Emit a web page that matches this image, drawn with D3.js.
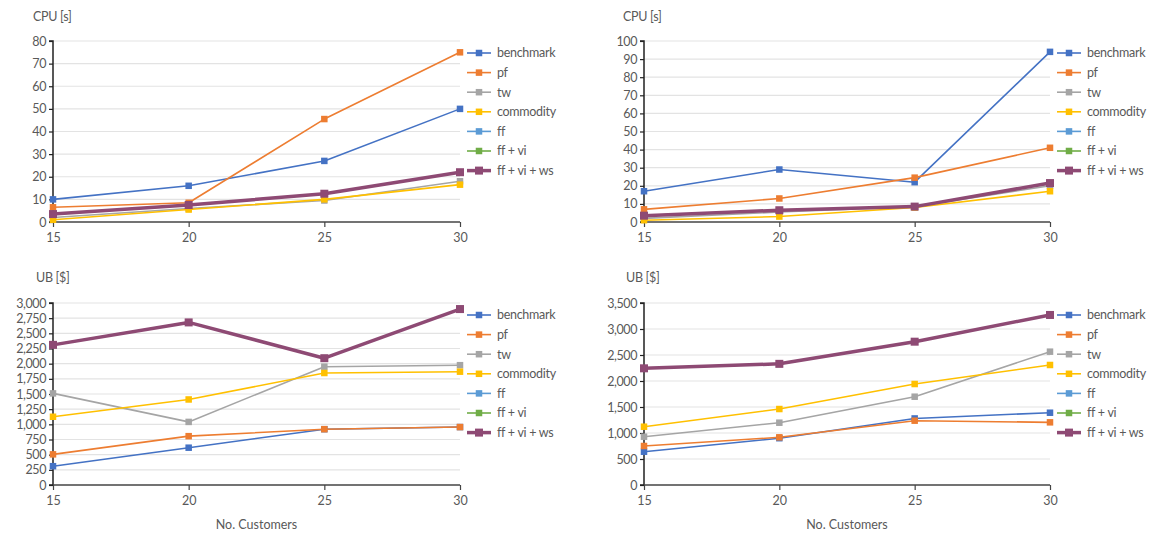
<!DOCTYPE html>
<html><head><meta charset="utf-8">
<script src="https://cdn.jsdelivr.net/npm/d3@7"></script>
<style>body{margin:0;background:#fff;} text{font-family:Lato,"Open Sans",sans-serif;}</style>
</head><body><svg id="c" width="1159" height="538"></svg>
<script>
const customers = [15, 20, 25, 30];
const seriesNames = ["benchmark", "pf", "tw", "commodity", "ff", "ff + vi", "ff + vi + ws"];
const seriesColors = ["#4472C4", "#ED7D31", "#A5A5A5", "#FFC000", "#5B9BD5", "#70AD47", "#8E4A74"];

// CPU [s], left
const cpuA_benchmark = [10, 16, 27, 50];
const cpuA_pf = [6.5, 8.5, 45.5, 75];
const cpuA_tw = [2, 6, 9.5, 18];
const cpuA_commodity = [1, 5.5, 10, 16.5];
const cpuA_ff = [3.5, 7.5, 12.5, 22];
const cpuA_ffvi = [3.5, 7.5, 12.5, 22];
const cpuA_ffviws = [3.5, 7.5, 12.5, 22];
// CPU [s], right
const cpuB_benchmark = [17, 29, 22, 94];
const cpuB_pf = [7, 13, 24.5, 41];
const cpuB_tw = [2, 5.5, 8.5, 20];
const cpuB_commodity = [1, 3, 8, 17];
const cpuB_ff = [3.5, 6.5, 8.5, 21.5];
const cpuB_ffvi = [3.5, 6.5, 8.5, 21.5];
const cpuB_ffviws = [3.5, 6.5, 8.5, 21.5];
// UB [$], left
const ubA_benchmark = [310, 615, 920, 955];
const ubA_pf = [505, 805, 920, 955];
const ubA_tw = [1510, 1040, 1950, 1975];
const ubA_commodity = [1125, 1410, 1846, 1868];
const ubA_ff = [2310, 2680, 2090, 2900];
const ubA_ffvi = [2310, 2680, 2090, 2900];
const ubA_ffviws = [2310, 2680, 2090, 2900];
// UB [$], right
const ubB_benchmark = [640, 900, 1280, 1390];
const ubB_pf = [750, 917, 1237, 1205];
const ubB_tw = [929, 1198, 1698, 2564];
const ubB_commodity = [1121, 1461, 1942, 2308];
const ubB_ff = [2244, 2330, 2756, 3270];
const ubB_ffvi = [2244, 2330, 2756, 3270];
const ubB_ffviws = [2244, 2330, 2756, 3270];

const cpuATicks = [0,10,20,30,40,50,60,70,80];
const cpuBTicks = [0,10,20,30,40,50,60,70,80,90,100];
const ubATicks = [0,250,500,750,1000,1250,1500,1750,2000,2250,2500,2750,3000];
const ubBTicks = [0,500,1000,1500,2000,2500,3000,3500];

const panels = [
  {title:"CPU [s]", titleX:33, titleY:21, x0:53, x1:460, y0:41, y1:222, ticks:cpuATicks, fmt:d3.format("d"), xlab:false, legY:53,
   data:[cpuA_benchmark,cpuA_pf,cpuA_tw,cpuA_commodity,cpuA_ff,cpuA_ffvi,cpuA_ffviws]},
  {title:"CPU [s]", titleX:623, titleY:21, x0:644, x1:1050, y0:41, y1:222, ticks:cpuBTicks, fmt:d3.format("d"), xlab:false, legY:53,
   data:[cpuB_benchmark,cpuB_pf,cpuB_tw,cpuB_commodity,cpuB_ff,cpuB_ffvi,cpuB_ffviws]},
  {title:"UB [$]", titleX:36, titleY:282, x0:53, x1:460, y0:303, y1:485, ticks:ubATicks, fmt:d3.format(","), xlab:true, legY:315,
   data:[ubA_benchmark,ubA_pf,ubA_tw,ubA_commodity,ubA_ff,ubA_ffvi,ubA_ffviws]},
  {title:"UB [$]", titleX:626, titleY:282, x0:644, x1:1050, y0:303, y1:485, ticks:ubBTicks, fmt:d3.format(","), xlab:true, legY:315,
   data:[ubB_benchmark,ubB_pf,ubB_tw,ubB_commodity,ubB_ff,ubB_ffvi,ubB_ffviws]}
];

const svg = d3.select("#c");
const txt = "#595959";

panels.forEach(p => {
  const g = svg.append("g");
  const x = d3.scalePoint().domain(customers).range([p.x0, p.x1]);
  const y = d3.scaleLinear().domain([p.ticks[0], p.ticks[p.ticks.length-1]]).range([p.y1, p.y0]);

  g.selectAll(".grid").data(p.ticks.slice(1)).join("line")
    .attr("x1", p.x0).attr("x2", p.x1).attr("y1", d=>y(d)).attr("y2", d=>y(d))
    .attr("stroke", "#e3e3e3").attr("stroke-width", 1.2);

  const ya = g.append("g").attr("transform", `translate(${p.x0},0)`)
    .call(d3.axisLeft(y).tickValues(p.ticks).tickFormat(p.fmt).tickSize(4).tickPadding(3));
  ya.select(".domain").attr("stroke", "#222").attr("stroke-width", 1.5).attr("d", `M-4,${p.y0}H0V${p.y1}H-4`);
  ya.selectAll(".tick line").attr("stroke", "#222").attr("stroke-width", 1.2);
  ya.selectAll(".tick text").attr("fill", txt).style("font-size", "12.5px").attr("letter-spacing", "-0.4");

  const xa = g.append("g").attr("transform", `translate(0,${p.y1})`)
    .call(d3.axisBottom(x).tickSize(5).tickPadding(6));
  xa.select(".domain").attr("stroke", "#444").attr("stroke-width", 1.5).attr("d", `M${p.x0},0H${p.x1}`);
  xa.selectAll(".tick line").attr("stroke", "#444").attr("stroke-width", 1.2);
  xa.selectAll(".tick text").attr("fill", txt).style("font-size", "12.5px");

  g.append("text").attr("x", p.titleX).attr("y", p.titleY).attr("fill", txt)
    .style("font-size", "12.5px").attr("letter-spacing", "-0.3").text(p.title);
  if (p.xlab) {
    g.append("text").attr("x", (p.x0+p.x1)/2).attr("y", p.y1+44).attr("text-anchor","middle")
      .attr("fill", txt).style("font-size", "12.5px").text("No. Customers");
  }

  const line = d3.line().x((d,i)=>x(customers[i])).y(d=>y(d));
  p.data.forEach((vals, si) => {
    const thick = si === 6;
    g.append("path").datum(vals).attr("d", line).attr("fill","none")
      .attr("stroke", seriesColors[si]).attr("stroke-width", thick ? 3.5 : 1.6)
      .attr("stroke-linejoin","round");
    const ms = thick ? 8 : 6.5;
    g.selectAll(null).data(vals).join("rect")
      .attr("x", (d,i)=>x(customers[i]) - ms/2).attr("y", d=>y(d) - ms/2)
      .attr("width", ms).attr("height", ms).attr("fill", seriesColors[si]);
  });

  const lg = g.append("g");
  seriesNames.forEach((name, si) => {
    const ly = p.legY + si*19.6;
    const thick = si === 6;
    lg.append("line").attr("x1", p.x1+7).attr("x2", p.x1+31).attr("y1", ly).attr("y2", ly)
      .attr("stroke", seriesColors[si]).attr("stroke-width", thick ? 3.5 : 1.6);
    const ms = thick ? 8 : 6.5;
    lg.append("rect").attr("x", p.x1+19-ms/2).attr("y", ly-ms/2).attr("width", ms).attr("height", ms)
      .attr("fill", seriesColors[si]);
    lg.append("text").attr("x", p.x1+37).attr("y", ly).attr("dy","0.35em").attr("fill", txt)
      .style("font-size","12.5px").attr("letter-spacing","-0.3").text(name);
  });
});
</script></body></html>
